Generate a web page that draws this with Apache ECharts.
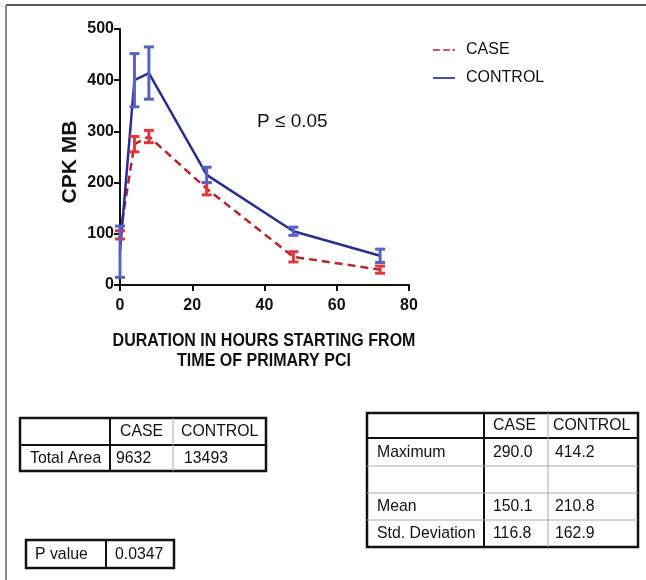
<!DOCTYPE html>
<html>
<head>
<meta charset="utf-8">
<script src="https://cdn.jsdelivr.net/npm/echarts@6/dist/echarts.min.js"></script>
<style>html,body{margin:0;padding:0;background:#fff;}#c{width:646px;height:580px;}</style>
</head>
<body>
<div id="c"></div>
<script>
// ---- data ----
const hours = [0, 4, 8, 24, 48, 72];
const caseMean = [98, 275, 290, 188, 55, 30];
const caseErr = [8, 15, 12, 12, 10, 7];
const controlMean = [65, 400, 414, 215, 105, 57];
const controlErr = [50, 52, 51, 15, 8, 13];
const seriesNames = ['CASE', 'CONTROL'];
const yTicks = [0, 100, 200, 300, 400, 500];
const xTicks = [0, 20, 40, 60, 80];
const yTitle = 'CPK MB';
const xTitleLines = ['DURATION IN HOURS STARTING FROM', 'TIME OF PRIMARY PCI'];
const annotation = 'P \u2264 0.05';
const areaHeader = ['', 'CASE', 'CONTROL'];
const areaRow = ['Total Area', '9632', '13493'];
const pRow = ['P value', '0.0347'];
const statsHeader = ['', 'CASE', 'CONTROL'];
const statsRows = [['Maximum', '290.0', '414.2'], ['', '', ''], ['Mean', '150.1', '210.8'], ['Std. Deviation', '116.8', '162.9']];

const FONT = '"Liberation Sans", Arial, sans-serif';
const caseLine = '#b3262c', caseBar = '#e2373d';
const ctrlLine = '#2a2e8c', ctrlBar = '#5861c4';

function errSeries(name, mean, err, color) {
  return {
    name: name + ' err', type: 'custom', z: 3,
    data: hours.map((h, i) => [h, mean[i] - err[i], mean[i] + err[i]]),
    renderItem: function (params, api) {
      const lo = api.coord([api.value(0), api.value(1)]);
      const hi = api.coord([api.value(0), api.value(2)]);
      const w = 5;
      const st = { stroke: color, lineWidth: 3 };
      return { type: 'group', children: [
        { type: 'line', shape: { x1: lo[0], y1: lo[1], x2: hi[0], y2: hi[1] }, style: st },
        { type: 'line', shape: { x1: lo[0] - w, y1: lo[1], x2: lo[0] + w, y2: lo[1] }, style: st },
        { type: 'line', shape: { x1: hi[0] - w, y1: hi[1], x2: hi[0] + w, y2: hi[1] }, style: st }
      ]};
    },
    silent: true
  };
}

// ---- graphic helpers ----
function txt(x, y, s, opt) {
  opt = opt || {};
  return { type: 'text', x: x, y: y, scaleX: opt.sx || 0.93, rotation: opt.rot || 0,
    style: { text: s, fill: '#111', font: (opt.weight || 'normal') + ' ' + (opt.size || 17) + 'px ' + FONT,
      textVerticalAlign: 'middle', textAlign: opt.align || 'left' } };
}
function hline(x1, x2, y, dark) {
  return { type: 'line', shape: { x1: x1, y1: y, x2: x2, y2: y }, style: { stroke: dark ? '#111' : '#aaa', lineWidth: dark ? 2 : 1 } };
}
function vline(x, y1, y2, dark) {
  return { type: 'line', shape: { x1: x, y1: y1, x2: x, y2: y2 }, style: { stroke: dark ? '#111' : '#aaa', lineWidth: dark ? 2 : 1 } };
}
function box(x1, y1, x2, y2) {
  return { type: 'rect', shape: { x: x1, y: y1, width: x2 - x1, height: y2 - y1 }, style: { fill: 'none', stroke: '#111', lineWidth: 2.5 } };
}

const g = [];
// outer frame
g.push({ type: 'line', shape: { x1: 6, y1: 5, x2: 646, y2: 5 }, style: { stroke: '#555', lineWidth: 2 } });
g.push({ type: 'line', shape: { x1: 6, y1: 5, x2: 6, y2: 580 }, style: { stroke: '#888', lineWidth: 2 } });
// annotation
g.push(txt(257, 122, annotation, { size: 19, sx: 1 }));
// axis titles
g.push(txt(264, 341, xTitleLines[0], { size: 18, weight: 'bold', sx: 0.89, align: 'center' }));
g.push(txt(264, 361, xTitleLines[1], { size: 18, weight: 'bold', sx: 0.89, align: 'center' }));
g.push({ type: 'text', x: 70, y: 162, rotation: Math.PI / 2,
  style: { text: yTitle, fill: '#111', font: 'bold 21px ' + FONT, textAlign: 'center', textVerticalAlign: 'middle' } });

// Table 1
g.push(box(20, 418, 266, 471), hline(20, 266, 445, true), vline(110, 418, 471, true), vline(173, 418, 471, false));
g.push(txt(120, 431, areaHeader[1]), txt(181, 431, areaHeader[2]));
g.push(txt(30, 458, areaRow[0]), txt(116, 458, areaRow[1]), txt(184, 458, areaRow[2]));
// P value table
g.push(box(26, 540, 174, 568), vline(106, 540, 568, true));
g.push(txt(35, 554, pRow[0]), txt(115, 554, pRow[1]));
// Table 2
g.push(box(367, 413, 638, 547), hline(367, 638, 438, true), vline(484, 413, 547, true), vline(548, 413, 547, false));
g.push(hline(367, 638, 466, false), hline(367, 638, 493, false), hline(367, 638, 520, false));
g.push(txt(493, 425, statsHeader[1]), txt(553, 425, statsHeader[2]));
const rowY = [452, 479, 506, 533];
statsRows.forEach((r, i) => {
  g.push(txt(377, rowY[i], r[0]), txt(493, rowY[i], r[1]), txt(555, rowY[i], r[2]));
});

const chart = echarts.init(document.getElementById('c'), null, { renderer: 'canvas' });
chart.setOption({
  animation: false,
  backgroundColor: '#fff',
  grid: { left: 120, right: 237, top: 29, bottom: 295, containLabel: false },
  legend: {
    data: [
      { name: seriesNames[0], icon: 'path://M0,0h8v2h-8z M12,0h8v2h-8z M23,0h3v2h-3z', itemStyle: { color: caseLine } },
      { name: seriesNames[1], icon: 'path://M0,0h26v2h-26z', itemStyle: { color: ctrlLine } }
    ],
    orient: 'vertical', left: 428, top: 37, itemGap: 12,
    itemWidth: 22, itemHeight: 3,
    textStyle: { fontSize: 16, fontFamily: FONT, color: '#111', padding: [0, 0, 0, 6] }
  },
  xAxis: {
    type: 'value', min: 0, max: 80, interval: 20,
    axisLine: { lineStyle: { color: '#111', width: 2 } },
    axisTick: { show: true, length: 6, lineStyle: { color: '#111', width: 2 } },
    axisLabel: { fontSize: 16, fontWeight: 'bold', fontFamily: FONT, color: '#111', margin: 13,
      formatter: v => xTicks.includes(v) ? String(v) : '' },
    splitLine: { show: false }
  },
  yAxis: {
    type: 'value', min: 0, max: 500, interval: 100,
    axisLine: { show: true, lineStyle: { color: '#111', width: 2 } },
    axisTick: { show: true, length: 6, lineStyle: { color: '#111', width: 2 } },
    axisLabel: { fontSize: 16, fontWeight: 'bold', fontFamily: FONT, color: '#111', margin: 6,
      formatter: v => yTicks.includes(v) ? String(v) : '' },
    splitLine: { show: false }
  },
  series: [
    { name: seriesNames[0], type: 'line', data: hours.map((h, i) => [h, caseMean[i]]), symbol: 'none', z: 2,
      lineStyle: { color: caseLine, width: 2.5, type: [8, 5] }, itemStyle: { color: caseLine } },
    { name: seriesNames[1], type: 'line', data: hours.map((h, i) => [h, controlMean[i]]), symbol: 'none', z: 2,
      lineStyle: { color: ctrlLine, width: 2.5 }, itemStyle: { color: ctrlLine } },
    errSeries(seriesNames[0], caseMean, caseErr, caseBar),
    errSeries(seriesNames[1], controlMean, controlErr, ctrlBar)
  ],
  graphic: g
});
</script>
</body>
</html>
